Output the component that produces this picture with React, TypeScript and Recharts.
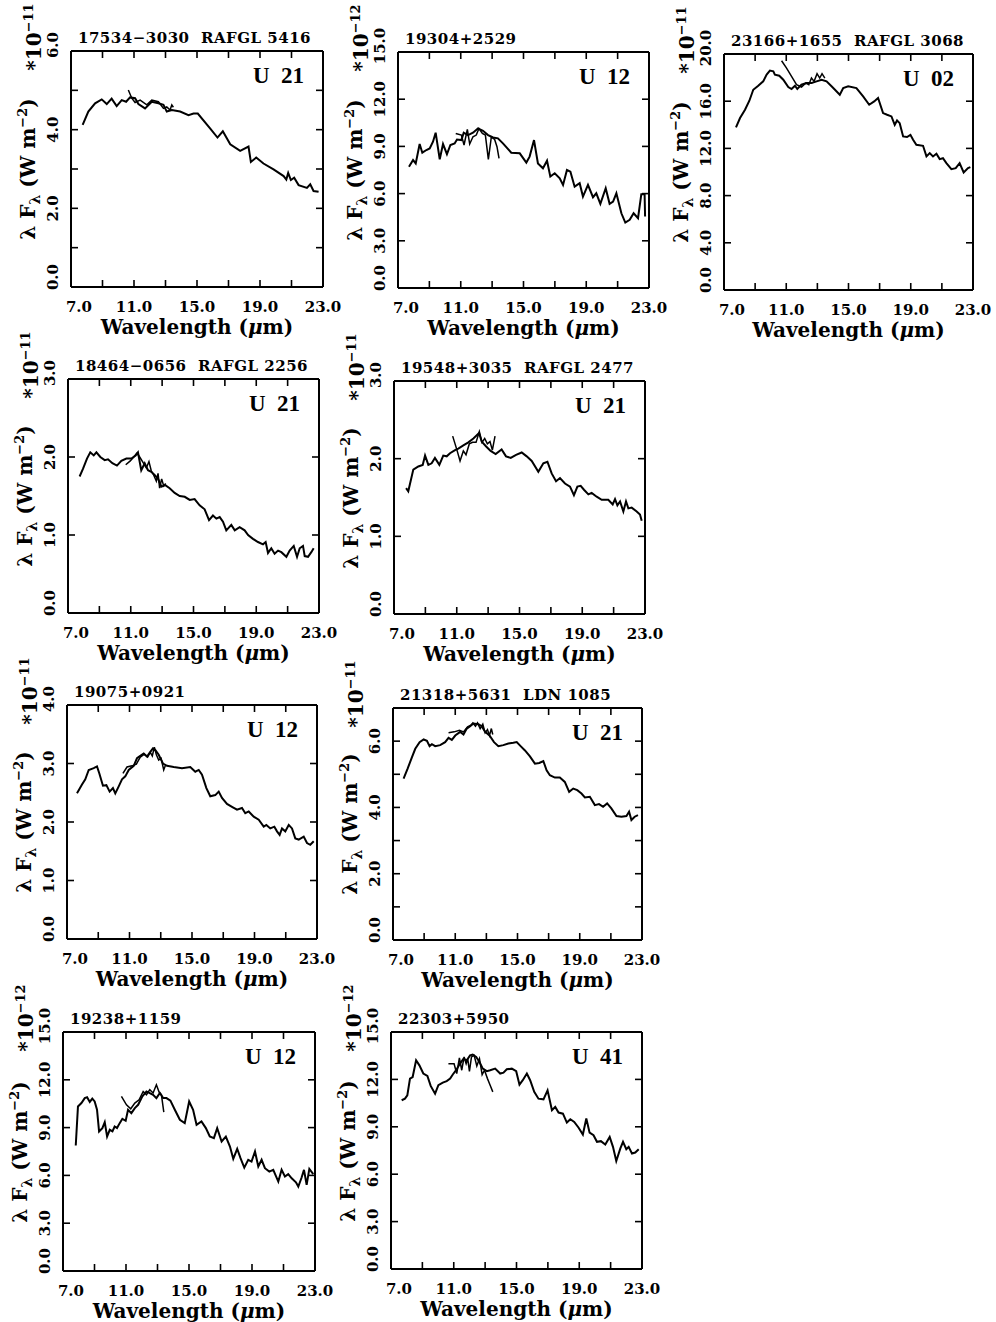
import React from "react";
import { LineChart, Line, XAxis, YAxis } from "recharts";

type Pt = [number, number];

// wavelength (um), lambda*F_lambda in units of the panel's exponent
// LRS spectra (long) and ground-based spectra (short, ~10.6-13.5 um)

const iras17534Lrs: Pt[] = [
  [7.74, 4.12], [8.1, 4.46], [8.53, 4.67], [8.95, 4.77], [9.27, 4.65], [9.58, 4.79], [9.9, 4.6],
  [10.22, 4.75], [10.5, 4.71], [10.75, 4.82], [11.07, 4.8], [11.28, 4.65], [11.7, 4.54], [12.13, 4.71],
  [12.55, 4.67], [12.87, 4.63], [13.08, 4.46], [13.4, 4.5], [13.93, 4.46], [14.46, 4.37], [14.78, 4.41],
  [15.05, 4.41], [15.83, 4.03], [16.3, 3.8], [16.64, 3.96], [17.11, 3.63], [17.74, 3.46], [18.27, 3.57],
  [18.42, 3.18], [18.76, 3.29], [19.22, 3.14], [19.86, 2.99], [20.5, 2.82], [20.67, 2.73], [20.79, 2.9],
  [20.96, 2.72], [21.17, 2.78], [21.45, 2.59], [21.98, 2.52], [22.19, 2.61], [22.4, 2.44], [22.72, 2.42],
];
const iras17534Ground: Pt[] = [
  [10.64, 5.01], [10.86, 4.8], [11.07, 4.69], [11.39, 4.75], [11.81, 4.63], [12.13, 4.75], [12.55, 4.71],
  [12.87, 4.54], [13.08, 4.58], [13.29, 4.5], [13.4, 4.63], [13.5, 4.57],
];

const iras19304Lrs: Pt[] = [
  [7.7, 7.71], [7.96, 8.13], [8.13, 7.92], [8.38, 9.15], [8.55, 8.6], [8.81, 8.77], [9.02, 8.87],
  [9.23, 9.3], [9.4, 9.87], [9.66, 8.18], [9.87, 9.15], [10.12, 8.51], [10.34, 9.09], [10.61, 9.19],
  [10.76, 9.44], [11.04, 9.4], [11.19, 9.87], [11.46, 9.72], [11.78, 9.87], [12.1, 10.14], [12.42, 9.99],
  [12.74, 9.72], [13.06, 9.57], [13.37, 9.51], [13.69, 9.19], [14.22, 8.6], [14.76, 8.56], [15.18, 7.97],
  [15.39, 8.35], [15.67, 9.4], [15.92, 7.92], [16.24, 7.61], [16.5, 8.09], [16.71, 7.08], [16.99, 7.29],
  [17.31, 6.97], [17.52, 6.55], [17.77, 7.5], [17.99, 7.39], [18.26, 6.44], [18.58, 6.66], [18.79, 5.81],
  [19.11, 6.55], [19.43, 5.77], [19.64, 6.02], [19.9, 5.35], [20.24, 6.34], [20.49, 5.35], [20.71, 5.49],
  [20.92, 6.02], [21.24, 4.75], [21.49, 4.16], [21.77, 4.33], [22.02, 4.75], [22.3, 4.44], [22.51, 5.96],
  [22.72, 5.96], [22.75, 4.54],
];
const iras19304Ground: Pt[] = [
  [10.68, 9.82], [11.04, 9.72], [11.21, 9.09], [11.42, 10.08], [11.57, 9.15], [11.78, 9.61], [11.99, 9.72],
  [12.16, 10.14], [12.38, 9.82], [12.57, 9.72], [12.76, 8.18], [12.95, 9.61], [13.16, 9.44], [13.31, 8.98],
  [13.44, 8.24],
];

const iras23166Lrs: Pt[] = [
  [7.77, 13.78], [8.03, 14.57], [8.35, 15.28], [8.63, 16.04], [8.88, 16.97], [9.2, 17.31], [9.52, 17.68],
  [9.74, 18.25], [9.95, 18.59], [10.17, 18.53], [10.27, 18.25], [10.55, 18.16], [10.81, 17.82],
  [11.13, 17.2], [11.34, 17.03], [11.56, 17.31], [11.71, 17.03], [11.98, 17.4], [12.3, 17.54],
  [12.63, 17.54], [12.95, 17.68], [13.27, 17.82], [13.59, 17.68], [13.91, 17.26], [14.13, 16.97],
  [14.44, 16.55], [14.66, 17.11], [14.98, 17.26], [15.51, 17.11], [15.94, 16.41], [16.33, 15.7],
  [16.65, 15.98], [16.9, 16.27], [17.22, 14.99], [17.48, 14.85], [17.76, 14.71], [17.97, 14.0],
  [18.12, 14.37], [18.29, 14.14], [18.51, 13.01], [18.76, 12.96], [18.98, 13.15], [19.15, 12.73],
  [19.36, 12.31], [19.79, 12.22], [20.01, 11.32], [20.22, 11.6], [20.43, 11.32], [20.65, 11.54],
  [20.86, 11.09], [21.07, 11.17], [21.29, 10.75], [21.61, 10.24], [21.89, 10.33], [22.14, 10.75],
  [22.4, 9.96], [22.68, 10.33], [22.83, 10.41],
];
const iras23166Ground: Pt[] = [
  [10.7, 19.43], [11.02, 18.81], [11.34, 18.1], [11.66, 17.4], [11.98, 17.2], [12.26, 17.54], [12.45, 17.4],
  [12.62, 17.96], [12.79, 17.68], [12.98, 18.33], [13.15, 17.96], [13.3, 18.33], [13.48, 17.96],
];

const iras18464Lrs: Pt[] = [
  [7.74, 1.75], [7.96, 1.85], [8.21, 1.98], [8.42, 2.06], [8.64, 2.02], [8.81, 2.06], [9.06, 2.0],
  [9.34, 1.96], [9.55, 1.97], [9.83, 1.92], [10.12, 1.89], [10.4, 1.95], [10.72, 1.98], [11.04, 1.98],
  [11.31, 2.02], [11.46, 2.06], [11.67, 1.83], [11.89, 1.92], [12.1, 1.83], [12.31, 1.81], [12.52, 1.77],
  [12.74, 1.72], [12.95, 1.62], [13.2, 1.64], [13.48, 1.6], [13.8, 1.54], [14.12, 1.5], [14.44, 1.49],
  [14.76, 1.45], [15.07, 1.46], [15.39, 1.38], [15.71, 1.33], [15.99, 1.19], [16.24, 1.25], [16.46, 1.21],
  [16.67, 1.23], [16.88, 1.17], [17.09, 1.06], [17.41, 1.13], [17.63, 1.06], [17.94, 1.1], [18.26, 1.06],
  [18.48, 1.0], [18.79, 0.95], [19.11, 0.91], [19.43, 0.88], [19.6, 0.91], [19.75, 0.77], [19.96, 0.83],
  [20.17, 0.76], [20.39, 0.8], [20.6, 0.78], [20.92, 0.72], [21.13, 0.8], [21.39, 0.86], [21.6, 0.72],
  [21.77, 0.83], [21.98, 0.86], [22.09, 0.73], [22.3, 0.72], [22.51, 0.78], [22.66, 0.83],
];
const iras18464Ground: Pt[] = [
  [10.68, 1.9], [10.97, 1.95], [11.19, 2.0], [11.4, 2.05], [11.57, 2.0], [11.78, 1.93], [11.99, 1.86],
  [12.16, 1.94], [12.31, 1.82], [12.46, 1.77], [12.63, 1.69], [12.74, 1.79], [12.84, 1.6], [12.97, 1.72],
  [13.1, 1.63], [13.23, 1.66],
];

const iras19548Lrs: Pt[] = [
  [7.77, 1.62], [7.91, 1.58], [8.23, 1.86], [8.55, 1.9], [8.83, 1.92], [8.98, 2.04], [9.19, 1.92],
  [9.4, 1.94], [9.61, 2.01], [9.89, 1.92], [10.14, 2.04], [10.36, 2.03], [10.57, 2.07], [10.89, 2.11],
  [11.1, 2.13], [11.42, 2.17], [11.74, 2.21], [12.06, 2.26], [12.42, 2.33], [12.59, 2.22], [12.86, 2.16],
  [13.16, 2.1], [13.48, 2.06], [13.86, 2.12], [14.14, 2.03], [14.44, 2.01], [14.78, 2.05], [15.14, 2.08],
  [15.46, 2.03], [15.78, 1.97], [16.2, 1.83], [16.52, 1.94], [16.78, 1.96], [17.05, 1.81], [17.33, 1.71],
  [17.58, 1.75], [17.9, 1.68], [18.22, 1.64], [18.47, 1.53], [18.69, 1.64], [18.9, 1.65], [19.11, 1.6],
  [19.39, 1.54], [19.6, 1.56], [19.92, 1.51], [20.24, 1.47], [20.66, 1.47], [20.94, 1.41], [21.09, 1.48],
  [21.24, 1.4], [21.41, 1.45], [21.62, 1.32], [21.79, 1.45], [21.94, 1.36], [22.15, 1.37], [22.47, 1.32],
  [22.68, 1.28], [22.79, 1.2],
];
const iras19548Ground: Pt[] = [
  [10.74, 2.29], [11.0, 2.12], [11.21, 1.97], [11.42, 2.1], [11.59, 2.05], [11.8, 2.19], [12.01, 2.21],
  [12.23, 2.21], [12.44, 2.35], [12.61, 2.21], [12.78, 2.26], [12.95, 2.19], [13.12, 2.22], [13.27, 2.11],
  [13.44, 2.29],
];

const iras19075Lrs: Pt[] = [
  [7.64, 2.49], [7.96, 2.64], [8.17, 2.73], [8.39, 2.89], [8.71, 2.92], [8.92, 2.95], [9.07, 2.83],
  [9.3, 2.62], [9.52, 2.63], [9.73, 2.52], [9.94, 2.58], [10.09, 2.49], [10.31, 2.61], [10.52, 2.73],
  [10.73, 2.78], [10.95, 2.89], [11.27, 2.96], [11.48, 3.09], [11.69, 3.13], [11.91, 3.17], [12.12, 3.12],
  [12.33, 3.2], [12.5, 3.26], [12.65, 3.23], [12.87, 3.15], [13.14, 3.0], [13.4, 2.96], [13.83, 2.94],
  [14.36, 2.92], [14.89, 2.94], [15.21, 2.86], [15.43, 2.89], [15.64, 2.81], [15.92, 2.58], [16.17, 2.44],
  [16.49, 2.46], [16.71, 2.52], [16.92, 2.41], [17.24, 2.31], [17.56, 2.26], [17.88, 2.21], [18.2, 2.24],
  [18.41, 2.15], [18.63, 2.18], [18.95, 2.09], [19.27, 2.04], [19.59, 1.92], [19.76, 1.95], [20.01, 1.89],
  [20.27, 1.92], [20.44, 1.84], [20.61, 1.78], [20.76, 1.89], [20.97, 1.84], [21.19, 1.95], [21.4, 1.89],
  [21.61, 1.72], [21.83, 1.7], [22.15, 1.75], [22.36, 1.64], [22.57, 1.61], [22.79, 1.67],
];
const iras19075Ground: Pt[] = [
  [10.58, 2.83], [10.84, 2.94], [11.16, 2.96], [11.44, 2.99], [11.69, 3.11], [11.95, 3.16], [12.16, 3.11],
  [12.33, 3.19], [12.46, 3.13], [12.59, 3.28], [12.72, 3.15], [12.87, 3.06], [13.02, 3.09], [13.19, 2.89],
  [13.29, 2.96],
];

const iras21318Lrs: Pt[] = [
  [7.68, 4.87], [7.94, 5.17], [8.22, 5.52], [8.43, 5.77], [8.71, 5.97], [8.97, 6.05], [9.18, 6.01],
  [9.35, 5.85], [9.5, 5.91], [9.71, 5.85], [10.03, 5.88], [10.35, 5.97], [10.57, 6.1], [10.78, 6.04],
  [11.0, 6.17], [11.32, 6.28], [11.53, 6.2], [11.74, 6.38], [11.96, 6.45], [12.17, 6.53], [12.49, 6.51],
  [12.7, 6.45], [12.92, 6.28], [13.2, 6.17], [13.49, 5.97], [13.77, 5.85], [14.09, 5.88], [14.41, 5.93],
  [14.73, 5.95], [14.95, 5.97], [15.2, 5.85], [15.48, 5.72], [15.8, 5.54], [16.12, 5.32], [16.4, 5.34],
  [16.66, 5.4], [16.87, 5.12], [17.08, 4.97], [17.4, 4.9], [17.72, 4.9], [18.04, 4.77], [18.32, 4.47],
  [18.58, 4.57], [18.84, 4.52], [19.11, 4.42], [19.33, 4.3], [19.65, 4.32], [19.97, 4.07], [20.24, 4.1],
  [20.5, 4.02], [20.76, 4.12], [21.03, 3.97], [21.36, 3.74], [21.68, 3.72], [22.0, 3.74], [22.17, 3.87],
  [22.32, 3.62], [22.53, 3.72], [22.74, 3.77],
];
const iras21318Ground: Pt[] = [
  [10.57, 6.25], [10.93, 6.28], [11.27, 6.33], [11.53, 6.28], [11.79, 6.43], [12.0, 6.48], [12.13, 6.55],
  [12.3, 6.45], [12.43, 6.55], [12.6, 6.38], [12.77, 6.51], [12.92, 6.25], [13.07, 6.35], [13.2, 6.17],
  [13.32, 6.38], [13.41, 6.2],
];

const iras19238Lrs: Pt[] = [
  [7.81, 7.88], [7.95, 10.33], [8.17, 10.54], [8.38, 10.85], [8.53, 10.9], [8.7, 10.61], [8.86, 10.82],
  [9.01, 10.64], [9.16, 10.12], [9.29, 8.76], [9.5, 8.97], [9.65, 9.34], [9.8, 8.44], [9.97, 8.86],
  [10.14, 8.76], [10.28, 9.07], [10.43, 8.97], [10.6, 9.28], [10.77, 9.55], [10.98, 9.43], [11.13, 10.12],
  [11.34, 9.91], [11.56, 10.22], [11.77, 10.43], [12.04, 10.96], [12.3, 11.27], [12.51, 11.17],
  [12.72, 11.06], [12.93, 10.85], [13.15, 11.17], [13.36, 10.85], [13.57, 10.85], [13.82, 10.69],
  [14.1, 10.12], [14.42, 9.49], [14.73, 9.28], [15.01, 10.64], [15.26, 10.12], [15.48, 9.18], [15.79, 9.39],
  [16.07, 8.97], [16.32, 8.44], [16.58, 8.34], [16.79, 8.97], [17.07, 8.13], [17.34, 8.44], [17.6, 7.81],
  [17.81, 7.04], [18.06, 7.67], [18.27, 7.08], [18.51, 6.49], [18.76, 6.98], [18.97, 6.87], [19.19, 7.5],
  [19.4, 6.56], [19.61, 6.98], [19.82, 6.45], [20.1, 6.24], [20.35, 6.35], [20.67, 5.61], [20.88, 6.35],
  [21.09, 5.93], [21.3, 6.08], [21.52, 5.82], [21.79, 5.57], [21.94, 5.3], [22.15, 5.87], [22.3, 6.35],
  [22.47, 5.41], [22.64, 6.41], [22.89, 6.08],
];
const iras19238Ground: Pt[] = [
  [10.71, 10.96], [11.03, 10.43], [11.3, 10.18], [11.56, 10.54], [11.83, 10.75], [12.09, 11.27],
  [12.3, 11.06], [12.51, 11.38], [12.72, 11.17], [12.93, 11.69], [13.1, 11.23], [13.25, 11.06], [13.4, 9.97],
];

const iras22303Lrs: Pt[] = [
  [7.68, 10.68], [7.89, 10.78], [8.04, 10.99], [8.21, 12.05], [8.38, 12.15], [8.6, 13.21], [8.81, 12.89],
  [9.06, 12.37], [9.32, 12.22], [9.53, 11.59], [9.81, 11.1], [10.02, 11.63], [10.3, 11.8], [10.55, 11.89],
  [10.77, 12.05], [10.94, 12.31], [11.15, 12.58], [11.4, 13.0], [11.62, 13.31], [11.83, 13.21],
  [12.04, 13.52], [12.21, 13.57], [12.43, 13.42], [12.64, 13.1], [12.85, 12.68], [13.11, 12.52],
  [13.32, 12.58], [13.64, 12.68], [13.96, 12.37], [14.17, 12.43], [14.38, 12.64], [14.7, 12.68],
  [14.98, 12.52], [15.19, 11.67], [15.4, 11.95], [15.66, 12.37], [15.87, 11.95], [16.13, 11.21],
  [16.4, 10.78], [16.72, 10.74], [16.98, 11.31], [17.26, 10.05], [17.47, 10.26], [17.68, 9.9], [17.96, 9.83],
  [18.21, 9.27], [18.43, 9.48], [18.68, 9.31], [18.96, 8.94], [19.23, 8.51], [19.45, 9.52], [19.66, 8.63],
  [19.91, 8.47], [20.13, 8.05], [20.38, 8.09], [20.66, 7.88], [20.94, 8.36], [21.15, 7.73], [21.36, 6.83],
  [21.62, 7.63], [21.79, 8.05], [22.0, 7.58], [22.15, 7.73], [22.36, 7.31], [22.57, 7.37], [22.79, 7.58],
];
const iras22303Ground: Pt[] = [
  [10.66, 12.99], [11.02, 12.99], [11.19, 12.37], [11.36, 13.36], [11.51, 12.58], [11.66, 13.42],
  [11.79, 12.99], [11.89, 13.31], [12.0, 12.51], [12.13, 13.42], [12.3, 13.52], [12.47, 12.85],
  [12.64, 13.31], [12.81, 12.3], [12.96, 12.58], [13.15, 12.05], [13.32, 11.63], [13.49, 11.21],
];

const X_TICKS = [7, 9, 11, 13, 15, 17, 19, 21, 23];
const X_LABELS = [7, 11, 15, 19, 23];

interface Panel {
  name: string;
  cls: string;
  exp: string;
  yTicks: number[];
  yLabels: number[];
  lrs: Pt[];
  ground: Pt[];
}

const panels: Panel[] = [
  { name: "17534\u22123030  RAFGL 5416", cls: "U  21", exp: "\u221211", yTicks: [0, 1, 2, 3, 4, 5, 6], yLabels: [0, 2, 4, 6], lrs: iras17534Lrs, ground: iras17534Ground },
  { name: "19304+2529", cls: "U  12", exp: "\u221212", yTicks: [0, 3, 6, 9, 12, 15], yLabels: [0, 3, 6, 9, 12, 15], lrs: iras19304Lrs, ground: iras19304Ground },
  { name: "23166+1655  RAFGL 3068", cls: "U  02", exp: "\u221211", yTicks: [0, 4, 8, 12, 16, 20], yLabels: [0, 4, 8, 12, 16, 20], lrs: iras23166Lrs, ground: iras23166Ground },
  { name: "18464\u22120656  RAFGL 2256", cls: "U  21", exp: "\u221211", yTicks: [0, 1, 2, 3], yLabels: [0, 1, 2, 3], lrs: iras18464Lrs, ground: iras18464Ground },
  { name: "19548+3035  RAFGL 2477", cls: "U  21", exp: "\u221211", yTicks: [0, 1, 2, 3], yLabels: [0, 1, 2, 3], lrs: iras19548Lrs, ground: iras19548Ground },
  { name: "19075+0921", cls: "U  12", exp: "\u221211", yTicks: [0, 1, 2, 3, 4], yLabels: [0, 1, 2, 3, 4], lrs: iras19075Lrs, ground: iras19075Ground },
  { name: "21318+5631  LDN 1085", cls: "U  21", exp: "\u221211", yTicks: [0, 1, 2, 3, 4, 5, 6, 7], yLabels: [0, 2, 4, 6], lrs: iras21318Lrs, ground: iras21318Ground },
  { name: "19238+1159", cls: "U  12", exp: "\u221212", yTicks: [0, 3, 6, 9, 12, 15], yLabels: [0, 3, 6, 9, 12, 15], lrs: iras19238Lrs, ground: iras19238Ground },
  { name: "22303+5950", cls: "U  41", exp: "\u221212", yTicks: [0, 3, 6, 9, 12, 15], yLabels: [0, 3, 6, 9, 12, 15], lrs: iras22303Lrs, ground: iras22303Ground },
];

// plot box [left, top, right, bottom] on the page
const boxes = [
  [71, 51, 323, 287],
  [398, 52, 649, 288],
  [724, 54, 973, 290],
  [68, 379, 319, 613],
  [394, 381, 645, 614],
  [67, 705, 317, 939],
  [393, 708, 642, 940],
  [63, 1032, 315, 1271],
  [391, 1032, 642, 1269],
];

const ML = 62;
const MT = 48;
const MR = 22;
const MB = 58;
const TICK = 7;
const FONT = "'DejaVu Serif', serif";

const tickText = {
  fontFamily: FONT,
  fontWeight: 700,
  fontSize: 15,
  fill: "#000",
};

function BottomTick(props: any) {
  const { x, y, payload } = props;
  const v = payload.value;
  return (
    <g>
      <line x1={x} x2={x} y1={y} y2={y - TICK} stroke="#000" strokeWidth={1.6} />
      {X_LABELS.includes(v) && (
        <text x={x + (v === 7 ? 8 : 0)} y={y + 25} textAnchor="middle" {...tickText}>
          {v.toFixed(1)}
        </text>
      )}
    </g>
  );
}

function TopTick(props: any) {
  const { x, y } = props;
  return <line x1={x} x2={x} y1={y} y2={y + TICK} stroke="#000" strokeWidth={1.6} />;
}

function RightTick(props: any) {
  const { x, y } = props;
  return <line x1={x} x2={x - TICK} y1={y} y2={y} stroke="#000" strokeWidth={1.6} />;
}

const leftTick = (labels: number[], top: number) => (props: any) => {
  const { x, y, payload } = props;
  const v = payload.value;
  const ty = v === 0 ? y - 10 : v === top ? y - 6 : y;
  const tx = x - 18;
  return (
    <g>
      <line x1={x} x2={x + TICK} y1={y} y2={y} stroke="#000" strokeWidth={1.6} />
      {labels.includes(v) && (
        <text
          x={tx}
          y={ty}
          transform={`rotate(-90 ${tx} ${ty})`}
          textAnchor="middle"
          dominantBaseline="central"
          {...tickText}
        >
          {v.toFixed(1)}
        </text>
      )}
    </g>
  );
};

const axisLine = { stroke: "#000", strokeWidth: 2 };

function SpectrumPanel({ p, box }: { p: Panel; box: number[] }) {
  const [l, t, r, b] = box;
  const w = r - l;
  const h = b - t;
  const W = w + ML + MR;
  const H = h + MT + MB;
  const yMax = p.yTicks[p.yTicks.length - 1];
  const lrs = p.lrs.map(([x, y]) => ({ x, y }));
  const ground = p.ground.map(([x, y]) => ({ x, y }));

  const txt: React.CSSProperties = {
    position: "absolute",
    fontFamily: FONT,
    fontWeight: 700,
    color: "#000",
    whiteSpace: "pre",
    lineHeight: 1,
  };

  return (
    <div style={{ position: "absolute", left: l - ML, top: t - MT, width: W, height: H }}>
      <LineChart width={W} height={H} margin={{ top: 0, right: 0, bottom: 0, left: 0 }}>
        <XAxis
          xAxisId="b"
          type="number"
          dataKey="x"
          domain={[7, 23]}
          allowDataOverflow
          ticks={X_TICKS}
          interval={0}
          height={MB}
          tickSize={0}
          tickMargin={0}
          tickLine={false}
          axisLine={axisLine}
          tick={BottomTick}
        />
        <XAxis
          xAxisId="t"
          orientation="top"
          type="number"
          dataKey="x"
          domain={[7, 23]}
          allowDataOverflow
          ticks={X_TICKS}
          interval={0}
          height={MT}
          tickSize={0}
          tickMargin={0}
          tickLine={false}
          axisLine={axisLine}
          tick={TopTick}
        />
        <YAxis
          yAxisId="l"
          type="number"
          domain={[0, yMax]}
          allowDataOverflow
          ticks={p.yTicks}
          interval={0}
          width={ML}
          tickSize={0}
          tickMargin={0}
          tickLine={false}
          axisLine={axisLine}
          tick={leftTick(p.yLabels, yMax)}
        />
        <YAxis
          yAxisId="r"
          orientation="right"
          type="number"
          domain={[0, yMax]}
          allowDataOverflow
          ticks={p.yTicks}
          interval={0}
          width={MR}
          tickSize={0}
          tickMargin={0}
          tickLine={false}
          axisLine={axisLine}
          tick={RightTick}
        />
        <Line
          xAxisId="b"
          yAxisId="l"
          data={lrs}
          dataKey="y"
          type="linear"
          stroke="#000"
          strokeWidth={2}
          dot={false}
          isAnimationActive={false}
        />
        <Line
          xAxisId="b"
          yAxisId="l"
          data={ground}
          dataKey="y"
          type="linear"
          stroke="#000"
          strokeWidth={1.5}
          dot={false}
          isAnimationActive={false}
        />
      </LineChart>

      {/* source name above the box */}
      <div style={{ ...txt, fontSize: 15, letterSpacing: 0.5, left: ML + 7, top: MT - 20 }}>{p.name}</div>

      {/* LRS class */}
      <div
        style={{
          ...txt,
          fontFamily: "'Liberation Serif', serif",
          fontSize: 23,
          right: MR + 19,
          top: MT + 13,
        }}
      >
        {p.cls}
      </div>

      {/* y axis title */}
      <div
        style={{
          ...txt,
          fontSize: 20,
          left: ML - 42,
          top: MT + h / 2,
          transform: "translate(-50%, -50%) rotate(-90deg)",
        }}
      >
        {"\u03bb F"}
        <sub style={{ fontSize: 14 }}>{"\u03bb"}</sub>
        {" (W m"}
        <sup style={{ fontSize: 13 }}>{"\u22122"}</sup>
        {")"}
      </div>

      {/* scale factor */}
      <div
        style={{
          ...txt,
          fontSize: 20,
          left: ML - 38,
          top: MT - 14,
          transform: "translate(-50%, -50%) rotate(-90deg)",
        }}
      >
        {"*10"}
        <sup style={{ fontSize: 13 }}>{p.exp}</sup>
      </div>

      {/* x axis title */}
      <div
        style={{
          ...txt,
          fontSize: 20,
          left: ML + w / 2,
          top: MT + h + 40,
          transform: "translate(-50%, -50%)",
        }}
      >
        {"Wavelength ("}
        <span style={{ fontStyle: "italic" }}>{"\u03bc"}</span>
        {"m)"}
      </div>
    </div>
  );
}

export default function App() {
  return (
    <div
      style={{
        position: "absolute",
        left: 0,
        top: 0,
        width: 996,
        height: 1322,
        background: "#fff",
        overflow: "hidden",
      }}
    >
      {panels.map((p, i) => (
        <SpectrumPanel key={p.name} p={p} box={boxes[i]} />
      ))}
    </div>
  );
}
